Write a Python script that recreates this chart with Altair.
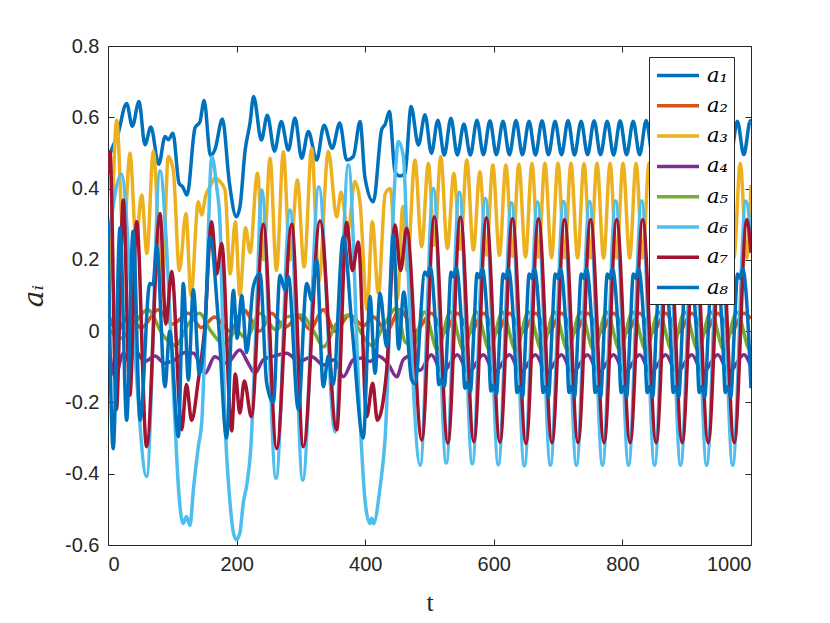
import altair as alt
import pandas as pd

T_TICKS = [0, 200, 400, 600, 800, 1000]
V_TICKS = [-0.6, -0.4, -0.2, 0, 0.2, 0.4, 0.6, 0.8]
NAMES = ["a\u2081", "a\u2082", "a\u2083", "a\u2084", "a\u2085", "a\u2086", "a\u2087", "a\u2088"]
COLORS = ["#0072BD", "#D95319", "#EDB120", "#7E2F8E", "#77AC30", "#4DBEEE", "#A2142F", "#0072BD"]

A1 = [(0, 0.48), (5.7, 0.51), (15, 0.55), (29, 0.639), (37.8, 0.575), (48.2, 0.644), (57.5, 0.523),
      (66.6, 0.573), (79, 0.468), (88.7, 0.546), (93.8, 0.537), (101, 0.555), (110.5, 0.415),
      (116.1, 0.405), (123, 0.382), (135.3, 0.57), (143.1, 0.588), (149.5, 0.647), (159.4, 0.492),
      (166.4, 0.51), (178, 0.595), (188.5, 0.42), (199.5, 0.321), (205.3, 0.35), (213.1, 0.505),
      (220.8, 0.583), (226.5, 0.658), (238.5, 0.536), (247.8, 0.606), (259, 0.505), (269.5, 0.588),
      (280.5, 0.508), (290.8, 0.598), (301.2, 0.485), (311.6, 0.56), (324.5, 0.48), (336, 0.578),
      (348.7, 0.513), (360.4, 0.584), (371.2, 0.48), (381.6, 0.49), (392, 0.588), (399.7, 0.43),
      (412.7, 0.363), (425.7, 0.566), (431, 0.58), (437.6, 0.616), (446.4, 0.447), (454.2, 0.435),
      (462, 0.443), (471.3, 0.63), (482.7, 0.522), (493, 0.607), (503, 0.499),
      (513, 0.592), (523, 0.494), (533.3, 0.597), (543.3, 0.494), (553.5, 0.581), (563.5, 0.494),
      (573.8, 0.592), (583.8, 0.495), (594, 0.59), (604, 0.495), (614.3, 0.589), (624.3, 0.495),
      (634.5, 0.591), (644.5, 0.495), (654.8, 0.589), (664.8, 0.494), (675, 0.59), (685, 0.495),
      (695.3, 0.589), (705.3, 0.495), (715.5, 0.591), (725.5, 0.494), (735.8, 0.589), (745.8, 0.495),
      (756, 0.59), (766, 0.495), (776.3, 0.589), (786.3, 0.494), (796.5, 0.59), (806.5, 0.495),
      (816.8, 0.589), (826.8, 0.495), (837, 0.591), (847, 0.494), (857.3, 0.589), (867.3, 0.495),
      (877.5, 0.59), (887.5, 0.495), (897.8, 0.589), (907.8, 0.494), (918, 0.59), (928, 0.495),
      (938.3, 0.589), (948.3, 0.495), (958.5, 0.591), (968.5, 0.494), (978.8, 0.589), (988.8, 0.495),
      (999, 0.59), (1000, 0.589)]

A2 = [(0, 0.05), (15, 0.0), (30, 0.04), (52, 0.01), (78, 0.06), (100, 0.02), (125, 0.05), (145, 0.01),
      (166, 0.04), (190, 0.0), (210.5, 0.06), (236, 0.0), (254.5, 0.05), (275, 0.01), (296, 0.04),
      (314, 0.005), (335, 0.06), (353, 0.0), (376, 0.045), (397, 0.015), (413, 0.04), (433, 0.0),
      (454, 0.06), (478, 0.0),
      (503, 0.05), (523, -0.003), (543.5, 0.05), (563.5, -0.003), (584, 0.05), (604, -0.003),
      (624.5, 0.05), (644.5, -0.003), (665, 0.05), (685, -0.003), (705.5, 0.05), (725.5, -0.003),
      (746, 0.05), (766, -0.003), (786.5, 0.05), (806.5, -0.003), (827, 0.05), (847, -0.003),
      (867.5, 0.05), (887.5, -0.003), (908, 0.05), (928, -0.003), (948.5, 0.05), (968.5, -0.003),
      (989, 0.05), (1000, 0.035)]

A3 = [(0, 0.0), (6, 0.3), (13.5, 0.592), (24, 0.25), (34.2, 0.499), (43.6, 0.256), (52.4, 0.382),
      (60.5, 0.218), (70.5, 0.505), (84, 0.1), (93.8, 0.49), (101.6, 0.45), (111, 0.17), (121.3, 0.33),
      (129, 0.1), (140.5, 0.363), (145.7, 0.326), (151.9, 0.38), (160, 0.41), (166, 0.43), (174, 0.42),
      (182, 0.395), (190, 0.16), (198, 0.307), (205, 0.1), (214, 0.29), (221, 0.22), (232.3, 0.443),
      (242, 0.2), (252, 0.485), (262, 0.17), (272.7, 0.503), (283, 0.2), (294.5, 0.424), (305, 0.18),
      (316.8, 0.513), (328, 0.14), (342.7, 0.505), (355.6, 0.32), (362.5, 0.39), (373, 0.28),
      (384, 0.42), (392, 0.36), (403, 0.06), (411, 0.307), (420.5, 0.106), (431, 0.385), (439, 0.4),
      (450, 0.09), (458.5, 0.35), (465, 0.17), (477.4, 0.48), (487.8, 0.237), (498.2, 0.47),
      (507.5, 0.241), (517.5, 0.489), (527.8, 0.232), (537.8, 0.442), (548, 0.23), (558, 0.48),
      (568.3, 0.227), (578.3, 0.447), (588.5, 0.213), (598.5, 0.466), (608.8, 0.212), (618.8, 0.466),
      (629, 0.21), (639, 0.468), (649.3, 0.208), (659.3, 0.47), (669.5, 0.207), (679.5, 0.471),
      (689.8, 0.206), (699.8, 0.471), (710, 0.206), (720, 0.471), (730.3, 0.205), (740.3, 0.47),
      (750.5, 0.205), (760.5, 0.471), (770.8, 0.205), (780.8, 0.47), (791, 0.205), (801, 0.471),
      (811.3, 0.205), (821.3, 0.47), (831.5, 0.205), (841.5, 0.471), (851.8, 0.205), (861.8, 0.47),
      (872, 0.205), (882, 0.471), (892.3, 0.205), (902.3, 0.47), (912.5, 0.205), (922.5, 0.471),
      (932.8, 0.205), (942.8, 0.47), (953, 0.205), (963, 0.471), (973.3, 0.205), (983.3, 0.47),
      (993.5, 0.205), (1000, 0.41)]

A4 = [(0, -0.02), (11, -0.128), (24, -0.062), (33, -0.085), (42, -0.055), (57, -0.085), (73, -0.07),
      (88, -0.09), (104, -0.08), (120, -0.06), (133, -0.062), (151, -0.118), (166, -0.072),
      (185, -0.09), (205, -0.053), (218, -0.09), (228.6, -0.118), (241.6, -0.08), (258, -0.07),
      (278, -0.062), (297, -0.085), (317, -0.072), (335, -0.095), (352, -0.08), (366, -0.128),
      (381.6, -0.08), (395, -0.075), (407.5, -0.085), (420, -0.07), (435, -0.09), (449, -0.128),
      (459.3, -0.08), (470, -0.07), (485, -0.11),
      (503, -0.066), (520, -0.116), (543.5, -0.066), (560.5, -0.116), (584, -0.066), (601, -0.116),
      (624.5, -0.066), (641.5, -0.116), (665, -0.066), (682, -0.116), (705.5, -0.066), (722.5, -0.116),
      (746, -0.066), (763, -0.116), (786.5, -0.066), (803.5, -0.116), (827, -0.066), (844, -0.116),
      (867.5, -0.066), (884.5, -0.116), (908, -0.066), (925, -0.116), (948.5, -0.066), (965.5, -0.116),
      (989, -0.066), (1000, -0.1)]

A5 = [(0, 0.01), (20, -0.02), (40, 0.02), (62, 0.06), (85, -0.01), (105, -0.04), (125, 0.02),
      (142, 0.05), (160, 0.0), (180, -0.035), (200, 0.0), (215, -0.02), (236, 0.05), (262, 0.003),
      (278, 0.04), (300, 0.045), (320, 0.0), (335, -0.044), (355, 0.02), (375, 0.045), (392, 0.0),
      (410, -0.04), (430, 0.02), (449, 0.065), (462, -0.03), (475, -0.04),
      (492, 0.054), (512.5, -0.053), (532.5, 0.054), (553, -0.053), (573, 0.054), (593.5, -0.053),
      (613.5, 0.054), (634, -0.053), (654, 0.054), (674.5, -0.053), (694.5, 0.054), (715, -0.053),
      (735, 0.054), (755.5, -0.053), (775.5, 0.054), (796, -0.053), (816, 0.054), (836.5, -0.053),
      (856.5, 0.054), (877, -0.053), (897, 0.054), (917.5, -0.053), (937.5, 0.054), (958, -0.053),
      (978, 0.054), (998.5, -0.053), (1000, -0.052)]

A6 = [(0, 0.25), (21, 0.44), (40, -0.02), (60, -0.408), (81, 0.45), (91, 0.24), (99, -0.06),
      (104, -0.25), (110, -0.45), (117, -0.54), (122, -0.52), (127.5, -0.545), (133, -0.44),
      (140.5, -0.324), (146, -0.25), (153, 0.1), (161.5, 0.49), (169, 0.405), (174, 0.31),
      (182, -0.25), (189.7, -0.48), (195, -0.565), (199.5, -0.585), (205, -0.567), (210.5, -0.48),
      (216, -0.43), (222, -0.33), (230, 0.0), (239, 0.396), (261.3, -0.413), (283, 0.34),
      (302.8, -0.418), (328, 0.405), (353, -0.282), (373.8, 0.466), (392, -0.25), (400, -0.48),
      (407.5, -0.54), (410, -0.525), (413, -0.54), (423, -0.44), (431, -0.3), (446, 0.42),
      (451.6, 0.532), (459.4, 0.49), (466, 0.2), (485.5, -0.376),
      (506, 0.40), (526, -0.37), (546.5, 0.39), (566.5, -0.372), (587, 0.372), (607, -0.375),
      (627.5, 0.36), (647.5, -0.378), (668, 0.362), (688, -0.376), (708.5, 0.364), (728.5, -0.376),
      (749, 0.364), (769, -0.376), (789.5, 0.365), (809.5, -0.376), (830, 0.365), (850, -0.376),
      (870.5, 0.365), (890.5, -0.376), (911, 0.365), (931, -0.376), (951.5, 0.365), (971.5, -0.376),
      (992, 0.365), (1000, 0.26)]

A7 = [(0, 0.44), (3, 0.503), (13, -0.22), (23.8, 0.368), (34, -0.18), (44.6, 0.307), (60, -0.324),
      (80.9, 0.33), (90, 0.02), (99, 0.167), (114.6, -0.277), (122, -0.15), (130, -0.25),
      (140.5, -0.137), (150, 0.0), (161.2, 0.307), (169, 0.16), (176.8, 0.246), (192.3, -0.28),
      (198, -0.12), (205, -0.23), (212, -0.14), (223, -0.24), (241.6, 0.30), (262.3, -0.329),
      (285.7, 0.30), (303.8, -0.324), (329.7, 0.31), (355.6, -0.277), (371.2, 0.305), (380, 0.17),
      (389.3, 0.25), (402.3, -0.24), (411.6, -0.146), (418.9, -0.25), (433.4, -0.11), (446.4, 0.298),
      (455, 0.17), (464.5, 0.289), (488, -0.306),
      (507.5, 0.321), (528.5, -0.315), (548, 0.32), (569, -0.31), (588.5, 0.318), (609.5, -0.312),
      (629, 0.316), (650, -0.315), (669.5, 0.315), (690.5, -0.313), (710, 0.313), (731, -0.313),
      (750.5, 0.313), (771.5, -0.313), (791, 0.313), (812, -0.313), (831.5, 0.313), (852.5, -0.313),
      (872, 0.313), (893, -0.313), (912.5, 0.313), (933.5, -0.313), (953, 0.313), (974, -0.313),
      (993.5, 0.313), (1000, 0.22)]

A8 = [(0, 0.31), (8, -0.33), (18.7, 0.29), (29, -0.25), (39, 0.28), (50, -0.25), (65, 0.134),
      (70, 0.13), (75.7, 0.24), (88.6, -0.156), (96, 0.0), (109.4, -0.296), (117.2, 0.134),
      (125, -0.137), (132.7, 0.116), (142, -0.12), (150, -0.02), (158.6, 0.265), (171.6, 0.03),
      (184.5, -0.3), (195, 0.115), (201, -0.02), (207.9, 0.1), (215.7, -0.06), (226, 0.125),
      (236.4, 0.162), (246.8, -0.146), (257.1, -0.2), (267.5, 0.157), (275.3, 0.115), (280.5, 0.153),
      (296, -0.22), (309, 0.134), (316.8, 0.087), (324.5, 0.2), (334.9, -0.156), (342.7, -0.07),
      (350, -0.15), (366, 0.265), (380, 0.0), (397, -0.3), (407.5, 0.097), (415.3, -0.118),
      (423, 0.106), (433.4, -0.044), (443.8, 0.27), (452, -0.05), (460, 0.11), (472, -0.135),
      (477.4, -0.147),
      (493, 0.166), (497, 0.155), (501, 0.18), (510, 0.0), (514.5, -0.15), (518.5, -0.135), (523, -0.155), (528.5, 0.0),
      (533.5, 0.165), (537.5, 0.152), (541.5, 0.178), (550.5, 0.0), (555, -0.16), (559, -0.145), (563.5, -0.17), (569, 0.0),
      (574, 0.162), (578, 0.15), (582, 0.176), (591, 0.0), (595.5, -0.168), (599.5, -0.152), (604, -0.178), (609.5, 0.0),
      (614.5, 0.16), (618.5, 0.148), (622.5, 0.175), (631.5, 0.0), (636, -0.172), (640, -0.155), (644.5, -0.185), (650, 0.0),
      (655, 0.16), (659, 0.148), (663, 0.175), (672, 0.0), (676.5, -0.172), (680.5, -0.155), (685, -0.185), (690.5, 0.0),
      (695.5, 0.16), (699.5, 0.148), (703.5, 0.175), (712.5, 0.0), (717, -0.172), (721, -0.155), (725.5, -0.185), (731, 0.0),
      (736, 0.16), (740, 0.148), (744, 0.175), (753, 0.0), (757.5, -0.172), (761.5, -0.155), (766, -0.185), (771.5, 0.0),
      (776.5, 0.16), (780.5, 0.148), (784.5, 0.175), (793.5, 0.0), (798, -0.172), (802, -0.155), (806.5, -0.185), (812, 0.0),
      (817, 0.16), (821, 0.148), (825, 0.175), (834, 0.0), (838.5, -0.172), (842.5, -0.155), (847, -0.185), (852.5, 0.0),
      (857.5, 0.16), (861.5, 0.148), (865.5, 0.175), (874.5, 0.0), (879, -0.172), (883, -0.155), (887.5, -0.185), (893, 0.0),
      (898, 0.16), (902, 0.148), (906, 0.175), (915, 0.0), (919.5, -0.172), (923.5, -0.155), (928, -0.185), (933.5, 0.0),
      (938.5, 0.16), (942.5, 0.148), (946.5, 0.175), (955.5, 0.0), (960, -0.172), (964, -0.155), (968.5, -0.185), (974, 0.0),
      (979, 0.16), (983, 0.148), (987, 0.175), (996, 0.0), (1000, -0.16)]

SERIES = [A1, A2, A3, A4, A5, A6, A7, A8]
rows = [{"t": t, "v": v, "s": n} for n, pts in zip(NAMES, SERIES) for t, v in pts]
df = pd.DataFrame(rows)

W, H = 643, 499
AX = "#262626"
xs = alt.Scale(domain=[0, 1000], nice=False, zero=False)
ys = alt.Scale(domain=[-0.6, 0.8], nice=False, zero=False)
ylab = ("datum.value == 0 ? '0' : (datum.value < 0 ? '-' + format(-datum.value, '.1f') "
        ": format(datum.value, '.1f'))")

lines = alt.Chart(df).mark_line(strokeWidth=3.5, interpolate="monotone", clip=True).encode(
    x=alt.X("t:Q", scale=xs, axis=alt.Axis(
        values=T_TICKS, format="d", title="t", ticks=False, tickSize=0, domain=False, grid=False,
        labelPadding=9, titlePadding=15, titleFont="Liberation Serif", titleFontSize=26,
        titleFontWeight="normal", titleColor=AX)),
    y=alt.Y("v:Q", scale=ys, axis=alt.Axis(
        values=V_TICKS, labelExpr=ylab, title="a\u1d62", ticks=False, tickSize=0, domain=False,
        grid=False, labelPadding=9, titlePadding=16, titleFont="DejaVu Serif", titleFontStyle="italic",
        titleFontSize=28, titleFontWeight="normal", titleColor=AX)),
    color=alt.Color("s:N", scale=alt.Scale(domain=NAMES, range=COLORS), legend=alt.Legend(
        title=None, orient="none", legendX=541, legendY=11, direction="vertical",
        symbolType="M-1,0L3,0", symbolSize=441, symbolStrokeWidth=3.5,
        labelFont="DejaVu Serif", labelFontStyle="italic", labelFontSize=21, labelColor="black",
        labelOffset=27, fillColor="white", strokeColor=AX, padding=6, rowPadding=7.3)),
)

tick_common = dict(labels=False, domain=False, grid=False, ticks=True, tickSize=6,
                   tickColor=AX, tickWidth=1, title=None)


def tick_layer(xaxis, yaxis):
    return alt.Chart(df).mark_point(opacity=0).encode(
        x=alt.X("t:Q", scale=xs, axis=xaxis),
        y=alt.Y("v:Q", scale=ys, axis=yaxis),
    )


bottom_in = tick_layer(alt.Axis(orient="top", offset=-H, values=T_TICKS, **tick_common), None)
top_in = tick_layer(alt.Axis(orient="bottom", offset=-H, values=T_TICKS, **tick_common), None)
left_in = tick_layer(None, alt.Axis(orient="right", offset=-W, values=V_TICKS, **tick_common))
right_in = tick_layer(None, alt.Axis(orient="left", offset=-W, values=V_TICKS, **tick_common))

chart = alt.layer(lines, bottom_in, top_in, left_in, right_in).resolve_axis(
    x="independent", y="independent"
).properties(
    width=W, height=H,
    autosize=alt.AutoSizeParams(type="none"),
    padding={"left": 100, "top": 38, "right": 71, "bottom": 70},
    background="white",
).configure_view(stroke=AX, strokeWidth=1).configure_axis(
    labelFont="Liberation Sans", labelFontSize=20, labelColor=AX
)

chart.save("out.html", embed_options={"renderer": "svg", "actions": False})
